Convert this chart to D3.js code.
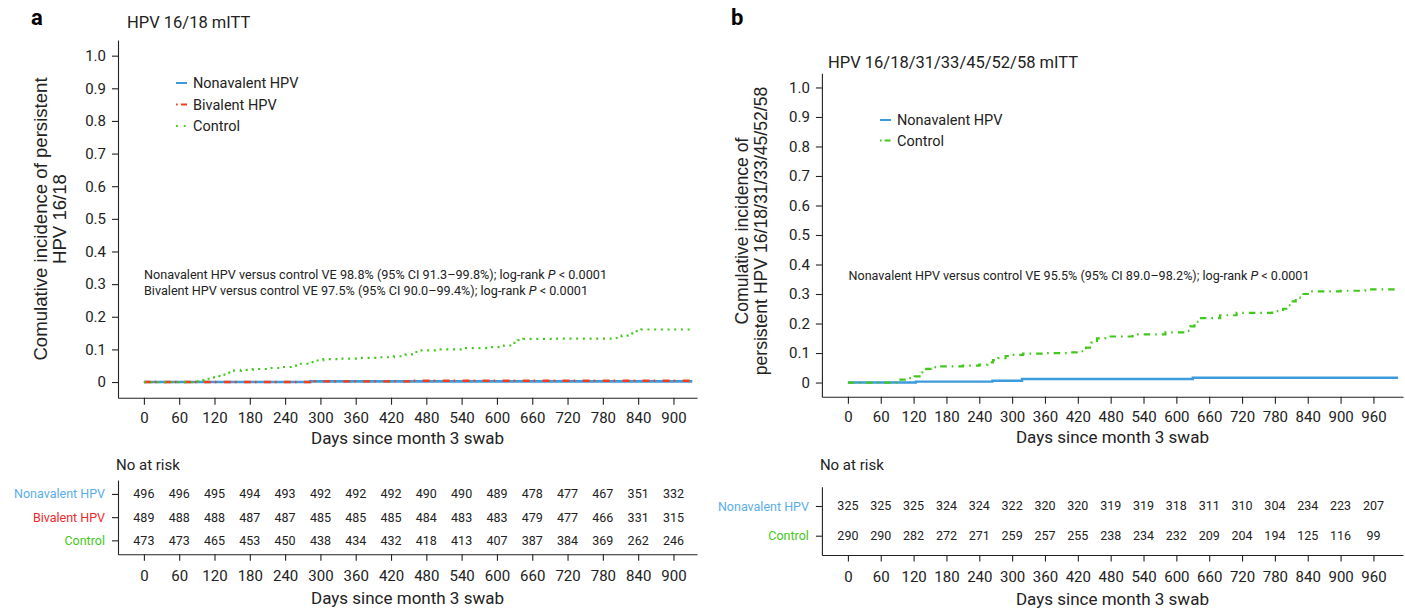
<!DOCTYPE html>
<html>
<head>
<meta charset="utf-8">
<script src="https://cdn.jsdelivr.net/npm/d3@7"></script>
<style>
body{margin:0;background:#fff;}
svg text{font-family:Roboto,"Liberation Sans",sans-serif;fill:#222;}
.axis path,.axis line{stroke:#222;stroke-width:1.1;}
</style>
</head>
<body>
<svg id="chart" width="1405" height="609"></svg>
<script>
// ---- data ----
var yTicks = [0,0.1,0.2,0.3,0.4,0.5,0.6,0.7,0.8,0.9,1.0];
var daysA = [0,60,120,180,240,300,360,420,480,540,600,660,720,780,840,900];
var daysB = [0,60,120,180,240,300,360,420,480,540,600,660,720,780,840,900,960];

var groupsA = ['Nonavalent HPV','Bivalent HPV','Control'];
var groupsB = ['Nonavalent HPV','Control'];

// cumulative incidence, [day, value] step points
var nonaA = [[0,0],[283,0.002],[932,0.002]];
var bivaA = [[0,0],[290,0.002],[455,0.004],[932,0.004]];
var ctrlA = [[0,0],[82,0.002],[92,0.006],[102,0.010],[112,0.014],[122,0.018],[132,0.023],[142,0.029],
  [150,0.035],[165,0.037],[185,0.040],[215,0.043],[235,0.046],[252,0.050],[262,0.056],[278,0.061],
  [292,0.066],[305,0.070],[335,0.072],[367,0.074],[400,0.076],[425,0.079],[445,0.085],[458,0.092],
  [468,0.097],[500,0.100],[545,0.104],[585,0.107],[612,0.112],[625,0.120],[635,0.128],[645,0.132],
  [700,0.133],[800,0.135],[812,0.142],[822,0.149],[835,0.156],[845,0.161],[932,0.161]];

var nonaB = [[0,0],[124,0.003],[264,0.006],[318,0.012],[630,0.016],[1005,0.016]];
var ctrlB = [[0,0],[88,0.004],[96,0.010],[108,0.015],[122,0.021],[135,0.034],[143,0.046],[152,0.052],
  [165,0.055],[210,0.057],[240,0.061],[255,0.068],[265,0.076],[275,0.083],[288,0.090],[300,0.094],
  [320,0.098],[360,0.100],[400,0.102],[425,0.106],[435,0.118],[445,0.135],[455,0.150],[470,0.156],
  [520,0.163],[580,0.170],[615,0.175],[625,0.190],[633,0.206],[642,0.218],[680,0.228],[710,0.236],
  [775,0.242],[795,0.250],[803,0.262],[810,0.275],[818,0.288],[828,0.300],[840,0.309],[900,0.311],
  [945,0.316],[1005,0.316]];

// numbers at risk
var riskA = [
  [496,496,495,494,493,492,492,492,490,490,489,478,477,467,351,332],
  [489,488,488,487,487,485,485,485,484,483,483,479,477,466,331,315],
  [473,473,465,453,450,438,434,432,418,413,407,387,384,369,262,246]];
var riskB = [
  [325,325,325,324,324,322,320,320,319,319,318,311,310,304,234,223,207],
  [290,290,282,272,271,259,257,255,238,234,232,209,204,194,125,116,99]];

var annotA = [['Nonavalent HPV versus control VE 98.8% (95% CI 91.3\u201399.8%); log-rank ','P',' < 0.0001'],
              ['Bivalent HPV versus control VE 97.5% (95% CI 90.0\u201399.4%); log-rank ','P',' < 0.0001']];
var annotB = [['Nonavalent HPV versus control VE 95.5% (95% CI 89.0\u201398.2%); log-rank ','P',' < 0.0001']];

// ---- styles ----
var styles = {
  'Nonavalent HPV': {color:'#3d9bdc', label:'#5aaee6', dash:null, legendDash:null, width:2.6},
  'Bivalent HPV':   {color:'#f53d1b', label:'#ec2b2b', dash:'7,4,1.6,7.4', legendDash:'1.6,3.4,6', width:2.4},
  'Control':        {color:'#42c81c', label:'#44c822', dash:'2,4.7', legendDash:'1.8,6', width:2.2}
};

var svg = d3.select('#chart');
svg.append('rect').attr('width',1405).attr('height',609).attr('fill','#fff');

function drawPanel(p){
  var g = svg.append('g');

  var x = d3.scaleLinear().domain(p.xDomain).range(p.xRange);
  var y = d3.scaleLinear().domain([-0.048,1.048]).range(p.yRange);

  // panel letter + title
  g.append('text').attr('x',p.letterX).attr('y',25).attr('font-size',22).attr('font-weight','bold')
    .style('fill','#000').text(p.letter);
  g.append('text').attr('x',p.titleX).attr('y',p.titleY).attr('font-size',16.5).text(p.title);

  // y axis
  var ya = g.append('g').attr('class','axis').attr('transform','translate('+p.xRange[0]+',0)')
    .call(d3.axisLeft(y).tickValues(yTicks).tickSize(6).tickSizeOuter(0).tickPadding(6)
      .tickFormat(function(d){return d===0?'0':d3.format('.1f')(d);}));
  ya.selectAll('text').attr('font-size',15);

  // x axis
  var xa = g.append('g').attr('class','axis').attr('transform','translate(0,'+p.yRange[0]+')')
    .call(d3.axisBottom(x).tickValues(p.days).tickSize(7).tickSizeOuter(0).tickPadding(8));
  xa.selectAll('text').attr('font-size',15);
  g.append('text').attr('x',(p.xRange[0]+p.xRange[1])/2).attr('y',p.yRange[0]+46)
    .attr('text-anchor','middle').attr('font-size',17).text('Days since month 3 swab');

  // y label (two lines)
  p.ylab.forEach(function(t,i){
    g.append('text').attr('transform','translate('+p.ylabX[i]+','+p.ylabY+') rotate(-90)')
      .attr('text-anchor','middle').attr('dy','0.35em').attr('font-size',p.ylabSize)
      .style('font-family','"Liberation Sans",Arial,sans-serif').text(t);
  });

  // curves
  var line = d3.line().x(function(d){return x(d[0]);}).y(function(d){return y(d[1]);})
    .curve(d3.curveStepAfter);
  p.groups.forEach(function(name,i){
    var s = styles[name];
    g.append('path').datum(p.series[i]).attr('d',line).attr('fill','none')
      .attr('stroke',s.color).attr('stroke-width',p.widths ? p.widths[i] : s.width)
      .attr('stroke-dasharray',p.dashes ? p.dashes[i] : s.dash);
  });

  // legend
  p.groups.forEach(function(name,i){
    var s = styles[name];
    var ly = p.legendY + i*p.legendStep;
    g.append('line').attr('x1',p.legendX).attr('x2',p.legendX+11).attr('y1',ly).attr('y2',ly)
      .attr('stroke',s.color).attr('stroke-width',2)
      .attr('stroke-dasharray',p.legendDashes ? p.legendDashes[i] : s.legendDash);
    g.append('text').attr('x',p.legendX+17).attr('y',ly).attr('dy','0.35em').attr('font-size',14.5)
      .text(name);
  });

  // annotation
  p.annot.forEach(function(parts,i){
    var t = g.append('text').attr('x',p.annotX).attr('y',p.annotY + i*15.5).attr('font-size',12.5)
      .attr('textLength',p.annotW[i]).attr('lengthAdjust','spacingAndGlyphs');
    t.append('tspan').text(parts[0]);
    t.append('tspan').attr('font-style','italic').text(parts[1]);
    t.append('tspan').text(parts[2]);
  });

  // numbers at risk table
  g.append('text').attr('x',p.xRange[0]-2).attr('y',465).attr('dy','0.35em').attr('font-size',15)
    .text('No at risk');
  var r = d3.scalePoint().domain(p.groups).range(p.riskRange).padding(p.riskPad);
  var ra = g.append('g').attr('class','axis').attr('transform','translate('+p.xRange[0]+',0)')
    .call(d3.axisLeft(r).tickSize(6).tickSizeOuter(0).tickPadding(7));
  ra.selectAll('text').attr('font-size',12.5).style('fill',function(d){return styles[d].label;});
  var ta = g.append('g').attr('class','axis').attr('transform','translate(0,'+p.riskRange[1]+')')
    .call(d3.axisBottom(x).tickValues(p.days).tickSize(6.5).tickSizeOuter(0).tickPadding(10));
  ta.selectAll('text').attr('font-size',15);
  g.append('text').attr('x',(p.xRange[0]+p.xRange[1])/2).attr('y',p.riskRange[1]+50)
    .attr('text-anchor','middle').attr('font-size',17).text('Days since month 3 swab');

  p.groups.forEach(function(name,i){
    g.append('g').selectAll('text').data(p.risk[i]).enter().append('text')
      .attr('x',function(d,j){return x(p.days[j]);}).attr('y',r(name)).attr('dy','0.35em')
      .attr('text-anchor','middle').attr('font-size',12.5).style('fill','#222')
      .text(function(d){return d;});
  });
}

drawPanel({
  letter:'a', letterX:31, title:'HPV 16/18 mITT', titleX:127, titleY:28,
  xDomain:[-44,940], xRange:[118,697], yRange:[397.7,40], days:daysA,
  ylab:['Comulative incidence of persistent','HPV 16/18'], ylabX:[40.5,59.5], ylabY:219, ylabSize:18.6,
  groups:groupsA, series:[nonaA,bivaA,ctrlA],
  legendX:176, legendY:83, legendStep:21.5,
  annot:annotA, annotX:144, annotY:279, annotW:[463,444],
  riskRange:[480,554.3], riskPad:0.6, risk:riskA
});

drawPanel({
  letter:'b', letterX:731, title:'HPV 16/18/31/33/45/52/58 mITT', titleX:828, titleY:67.5,
  xDomain:[-47.5,1014], xRange:[821.9,1403], yRange:[396.7,73.3], days:daysB,
  ylab:['Comulative incidence of','persistent HPV 16/18/31/33/45/52/58'], ylabX:[742,761], ylabY:231, ylabSize:17.6,
  groups:groupsB, series:[nonaB,ctrlB],
  widths:[2.4,2.2], dashes:[null,'6.5,5,1.6,5'], legendDashes:[null,'1.6,3,6'],
  legendX:880, legendY:120, legendStep:20.5,
  annot:annotB, annotX:848.5, annotY:280, annotW:[461],
  riskRange:[486.7,555], riskPad:0.65, risk:riskB
});
</script>
</body>
</html>
